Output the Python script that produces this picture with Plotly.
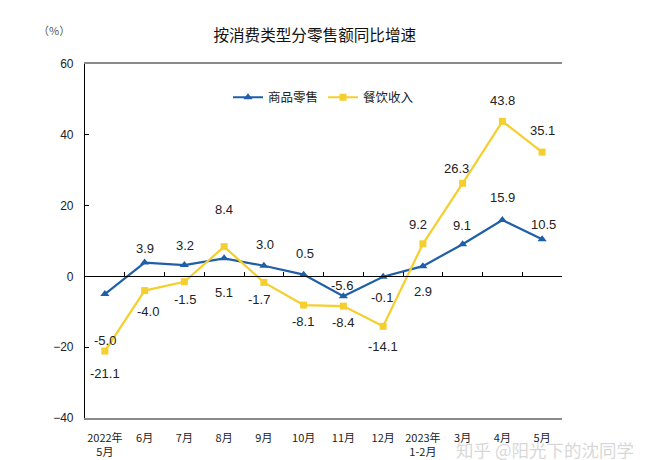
import plotly.graph_objects as go

categories = ["2022年<br>5月", "6月", "7月", "8月", "9月", "10月", "11月", "12月",
              "2023年<br>1-2月", "3月", "4月", "5月"]
goods = [-5.0, 3.9, 3.2, 5.1, 3.0, 0.5, -5.6, -0.1, 2.9, 9.1, 15.9, 10.5]
catering = [-21.1, -4.0, -1.5, 8.4, -1.7, -8.1, -8.4, -14.1, 9.2, 26.3, 43.8, 35.1]
y_ticks = [60, 40, 20, 0, -20, -40]

# label offsets in pixels (down positive)
goods_dy = [46, -14, -20, 34, -21, -21, -11, 21, 25, -19, -23, -15]
goods_dx = [0, 0, 1, 0, 1, 1, -1, -1, 0, -1, 0, 1]
cat_dy = [22, 21, 18, -37, 17, 16, 16, 20, -19, -15, -21, -22]
cat_dx = [0, 3, 1, 0, -5, -1, 0, 0, -5, -6, 0, 0]

BLUE = "#1F5FA8"
YELLOW = "#F4CF2E"
FONT = "Liberation Sans, Arial, Noto Sans CJK SC, sans-serif"

fig = go.Figure()
fig.add_trace(go.Scatter(x=categories, y=goods, name="商品零售", mode="lines+markers",
                         line=dict(color=BLUE, width=2.2),
                         marker=dict(symbol="triangle-up", size=8, color=BLUE)))
fig.add_trace(go.Scatter(x=categories, y=catering, name="餐饮收入", mode="lines+markers",
                         line=dict(color=YELLOW, width=2.2),
                         marker=dict(symbol="square", size=7, color=YELLOW)))
# zero line with category boundary ticks
fig.add_trace(go.Scatter(x=categories, y=[0] * len(categories), xaxis="x2",
                         mode="lines", line=dict(width=0), showlegend=False,
                         hoverinfo="skip"))

annotations = []
for i, c in enumerate(categories):
    annotations.append(dict(x=c, y=goods[i], text=f"{goods[i]:.1f}", showarrow=False,
                            yshift=-goods_dy[i], xshift=goods_dx[i],
                            font=dict(size=13, color="#222", family=FONT)))
    annotations.append(dict(x=c, y=catering[i], text=f"{catering[i]:.1f}", showarrow=False,
                            yshift=-cat_dy[i], xshift=cat_dx[i],
                            font=dict(size=13, color="#222", family=FONT)))
annotations.append(dict(x=-0.065, y=1.095, xref="paper", yref="paper", text="（%）",
                        showarrow=False, xanchor="center", yanchor="middle",
                        font=dict(size=11, color="#555", family="Noto Sans CJK SC")))
annotations.append(dict(x=1.0, y=-0.09, xref="paper", yref="paper", xanchor="left",
                        yanchor="middle", xshift=-108,
                        text="知乎 @阳光下的沈同学", showarrow=False,
                        font=dict(size=17.5, color="rgba(175,175,175,0.5)",
                                  family="Noto Sans CJK SC")))

fig.update_layout(
    width=645, height=460,
    margin=dict(l=85, r=83, t=64, b=42),
    paper_bgcolor="white", plot_bgcolor="white",
    title=dict(text="按消费类型分零售额同比增速", x=0.488, xanchor="center", y=0.922,
               yanchor="middle", font=dict(size=15.6, color="#111", family="Noto Sans CJK SC")),
    font=dict(family=FONT, size=12, color="#222"),
    showlegend=True,
    legend=dict(orientation="h", x=0.5, xanchor="center", y=0.905, yanchor="middle",
                font=dict(size=12.5, family="Noto Sans CJK SC", color="#222"),
                bgcolor="rgba(0,0,0,0)", itemwidth=30, tracegroupgap=0),
    xaxis=dict(type="category", showgrid=False, showline=True, linecolor="#8a8a8a",
               linewidth=1.5, mirror=True, ticks="", ticklabelstandoff=9, automargin=False,
               tickfont=dict(size=11, family="Noto Sans CJK SC"),
               range=[-0.5, len(categories) - 0.5], zeroline=False),
    xaxis2=dict(type="category", overlaying="x", anchor="free", position=0.4,
                showline=True, linecolor="black", linewidth=1, ticks="inside",
                ticklen=4, tickcolor="black", tickson="boundaries",
                showticklabels=False, showgrid=False, zeroline=False,
                range=[-0.5, len(categories) - 0.5]),
    yaxis=dict(range=[-40, 60], tickvals=y_ticks, showgrid=False, zeroline=False,
               showline=True, linecolor="black", linewidth=1.2, ticks="inside",
               ticklen=4, tickcolor="black", tickfont=dict(size=12), ticklabelstandoff=8),
    annotations=annotations,
)

fig.write_html("out.html")
